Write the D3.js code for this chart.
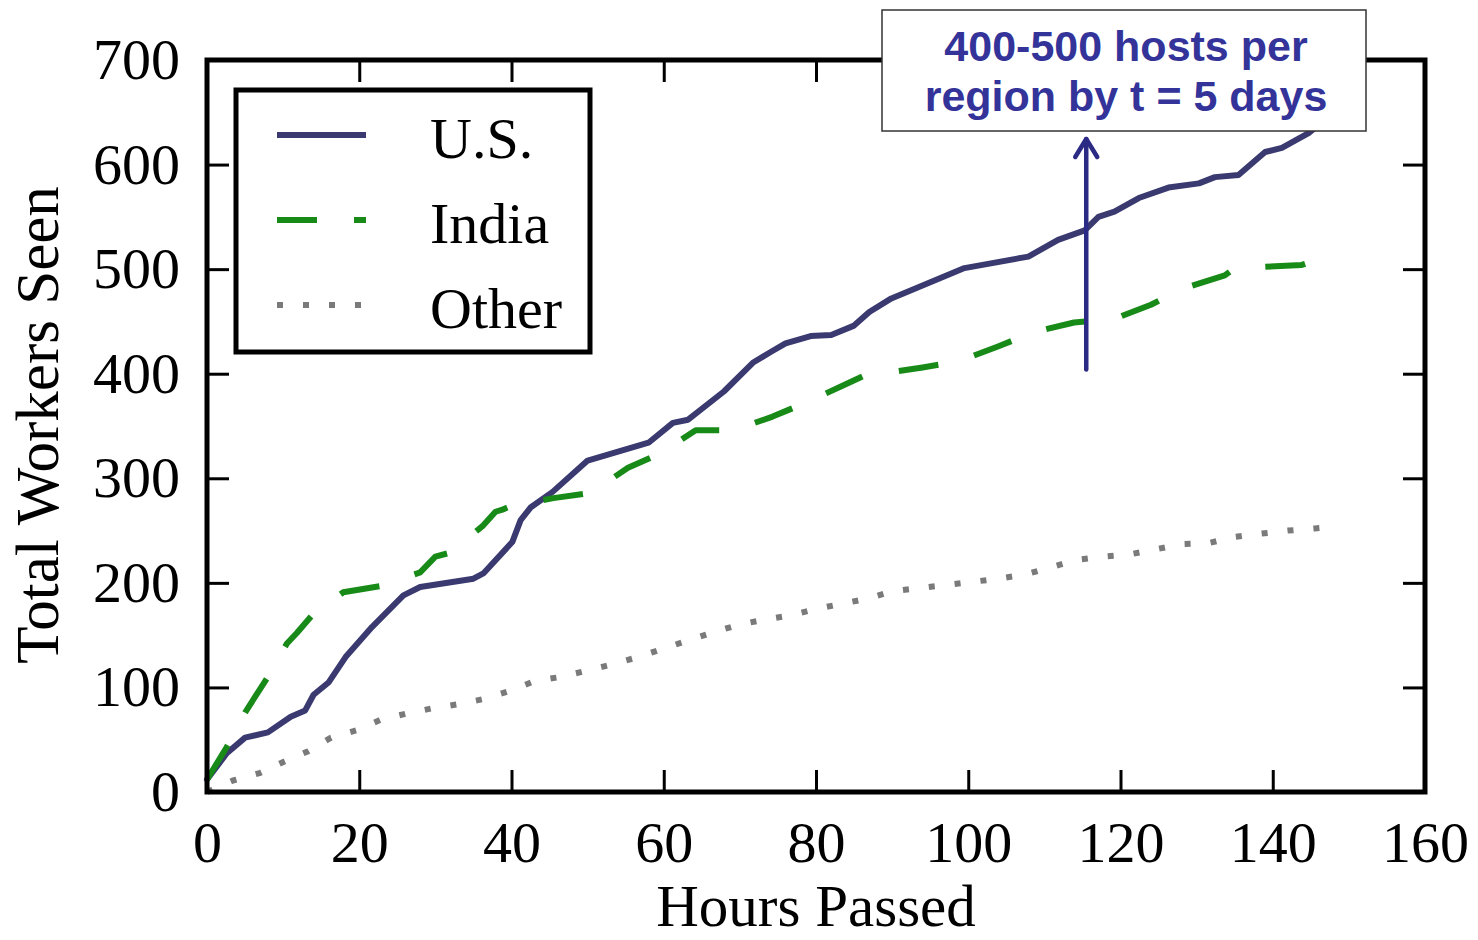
<!DOCTYPE html>
<html>
<head>
<meta charset="utf-8">
<script src="https://cdn.jsdelivr.net/npm/d3@7"></script>
<style>
  body { margin: 0; background: #fff; }
  text { font-family: "Liberation Serif", "Times New Roman", serif; }
</style>
</head>
<body>
<div id="area"></div>
<script>
// hours / workers
var usHours = [0, 2.6, 5, 8, 11, 12.9, 14, 16, 18.2, 21.7, 25.8, 28, 35, 36.3, 40.1, 41.2, 42.5, 45.4, 50, 58, 61.2, 63.2, 67.9, 71.8, 74.1, 76, 79.3, 82, 85, 87, 89.9, 99.5, 107.9, 111.8, 115.3, 117.1, 119.2, 122.4, 126.3, 130.3, 132.4, 135.5, 139, 141.2, 144.7, 148];
var usWorkers = [12, 37, 52, 57, 72, 78, 93, 105, 129, 158, 188, 196, 204, 209, 239, 260, 272, 287, 317, 334, 353, 356, 383, 411, 421, 429, 436, 437, 446, 459, 472, 501, 512, 528, 537, 550, 555, 568, 578, 582, 588, 590, 612, 616, 630, 650];

var indiaHours = [0, 2.6, 5, 7.9, 10.5, 11.8, 13.8, 17.9, 22.8, 28, 30, 32, 36.3, 37.9, 38.8, 40.1, 45.5, 50.4, 55.3, 59.6, 64.2, 69.2, 74.3, 78.9, 83.9, 86.3, 88.6, 94, 98.8, 103.9, 108.7, 113.9, 119, 124, 128.4, 133.7, 135, 138.3, 143.8, 148];
var indiaWorkers = [12, 43, 76, 109, 142, 152, 169, 191, 197, 210, 225, 229, 255, 268, 270, 274, 281, 286, 310, 324, 346, 346, 359, 373, 390, 398, 400, 406, 412, 426, 440, 449, 452, 466, 482, 494, 501, 502, 504, 514];

var otherHours = [0, 3.4, 6.9, 10.1, 13.3, 16.3, 19.6, 22.8, 26.2, 29.6, 33, 36.4, 39.9, 43, 46.4, 49.9, 53.2, 56.6, 59.9, 63.2, 66.6, 69.9, 73.3, 76.7, 80, 83.4, 86.8, 90.1, 93.6, 97.1, 100.6, 104, 107.5, 110.9, 114.2, 117.6, 121, 124.6, 128, 131.6, 135, 138.4, 142, 145.5, 148.5];
var otherWorkers = [0, 11, 18, 29, 39, 52, 59, 69, 75, 80, 84, 89, 97, 106, 110, 116, 122, 129, 137, 145, 153, 160, 165, 169, 175, 180, 185, 192, 195, 198, 201, 204, 208, 215, 222, 225, 227, 232, 237, 238, 244, 247, 250, 252, 254];

var seriesNames = ["U.S.", "India", "Other"];
var xTicks = [0, 20, 40, 60, 80, 100, 120, 140, 160];
var yTicks = [0, 100, 200, 300, 400, 500, 600, 700];
var noteLines = ["400-500 hosts per", "region by t = 5 days"];

var margin = { top: 60, right: 53, bottom: 148, left: 207 },
  width = 1478 - margin.left - margin.right,
  height = 940 - margin.top - margin.bottom;

var svg = d3.select("#area")
  .append("svg")
  .attr("width", 1478)
  .attr("height", 940);

var g = svg.append("g")
  .attr("transform", "translate(" + margin.left + "," + margin.top + ")");

var x = d3.scaleLinear().domain([0, 160]).range([0, width]);
var y = d3.scaleLinear().domain([0, 700]).range([height, 0]);

var styles = [
  { color: "#3a3a70", width: 6, dash: null, cap: "round" },
  { color: "#178a17", width: 6, dash: "40,37", cap: "butt" },
  { color: "#7a7a7a", width: 6, dash: "6,20", cap: "butt" }
];

var series = [
  d3.zip(usHours, usWorkers),
  d3.zip(indiaHours, indiaWorkers),
  d3.zip(otherHours, otherWorkers)
];

var line = d3.line()
  .x(function (d) { return x(d[0]); })
  .y(function (d) { return y(d[1]); });

series.forEach(function (s, i) {
  g.append("path")
    .datum(s)
    .attr("d", line)
    .attr("fill", "none")
    .attr("stroke", styles[i].color)
    .attr("stroke-width", styles[i].width)
    .attr("stroke-linejoin", "round")
    .attr("stroke-linecap", styles[i].cap)
    .attr("stroke-dasharray", styles[i].dash);
});

// axes, ticks pointing inwards on all sides
function styleAxis(sel) {
  sel.select(".domain").remove();
  sel.selectAll(".tick line").attr("stroke", "#000").attr("stroke-width", 3);
  sel.selectAll(".tick text").attr("fill", "#000").style("font-size", "58px")
    .style("font-family", "'Liberation Serif', 'Times New Roman', serif");
}

g.append("g")
  .attr("transform", "translate(0," + height + ")")
  .call(d3.axisBottom(x).tickValues(xTicks).tickSize(-22).tickPadding(29).tickFormat(d3.format("d")))
  .call(styleAxis);

g.append("g")
  .call(d3.axisTop(x).tickValues(xTicks).tickSize(-22).tickFormat(""))
  .call(styleAxis);

g.append("g")
  .call(d3.axisLeft(y).tickValues(yTicks).tickSize(-22).tickPadding(27).tickFormat(d3.format("d")))
  .call(styleAxis);

g.append("g")
  .attr("transform", "translate(" + width + ",0)")
  .call(d3.axisRight(y).tickValues(yTicks).tickSize(-22).tickFormat(""))
  .call(styleAxis);

g.append("rect")
  .attr("width", width)
  .attr("height", height)
  .attr("fill", "none")
  .attr("stroke", "#000")
  .attr("stroke-width", 5);

// axis titles
svg.append("text")
  .attr("x", margin.left + width / 2)
  .attr("y", 926)
  .attr("text-anchor", "middle")
  .style("font-size", "59px")
  .text("Hours Passed");

svg.append("text")
  .attr("transform", "translate(58," + (margin.top + height / 2 - 1) + ") rotate(-90)")
  .attr("text-anchor", "middle")
  .style("font-size", "61px")
  .text("Total Workers Seen");

// legend
var legend = svg.append("g").attr("transform", "translate(236,90)");
legend.append("rect")
  .attr("width", 354)
  .attr("height", 262)
  .attr("fill", "#fff")
  .attr("stroke", "#000")
  .attr("stroke-width", 5);

seriesNames.forEach(function (name, i) {
  var ly = 45 + i * 85;
  legend.append("line")
    .attr("x1", 41).attr("x2", 130)
    .attr("y1", ly).attr("y2", ly)
    .attr("stroke", styles[i].color)
    .attr("stroke-width", styles[i].width)
    .attr("stroke-dasharray", styles[i].dash);
  legend.append("text")
    .attr("x", 194)
    .attr("y", ly + 23)
    .style("font-size", "58px")
    .text(name);
});

// annotation arrow and box
var arrowX = x(115.5);
var arrow = svg.append("g").attr("stroke", "#2b2b85").attr("stroke-width", 4.5)
  .attr("fill", "none").attr("stroke-linecap", "round").attr("stroke-linejoin", "round");
arrow.append("line")
  .attr("x1", margin.left + arrowX).attr("x2", margin.left + arrowX)
  .attr("y1", margin.top + y(404)).attr("y2", 139);
arrow.append("polyline")
  .attr("points", [[margin.left + arrowX - 11, 157], [margin.left + arrowX, 139], [margin.left + arrowX + 11, 157]].join(" "));

svg.append("rect")
  .attr("x", 882).attr("y", 10)
  .attr("width", 484).attr("height", 121)
  .attr("fill", "#fff")
  .attr("stroke", "#333")
  .attr("stroke-width", 1.5);

noteLines.forEach(function (t, i) {
  svg.append("text")
    .attr("x", 1126)
    .attr("y", 61 + i * 50)
    .attr("text-anchor", "middle")
    .attr("fill", "#333399")
    .style("font-family", "'Liberation Sans', Arial, sans-serif")
    .style("font-weight", "bold")
    .style("font-size", "43px")
    .text(t);
});
</script>
</body>
</html>
